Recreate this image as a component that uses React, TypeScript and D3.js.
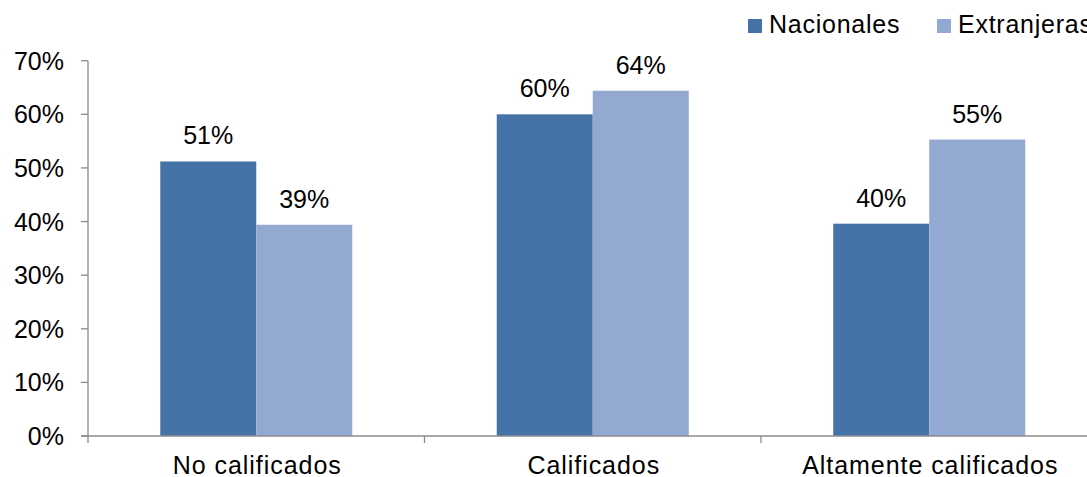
import React from "react";
import * as d3 from "d3";

// Proportion by qualification level, nationals vs. foreigners
const categories = ["No calificados", "Calificados", "Altamente calificados"];
const seriesNames = ["Nacionales", "Extranjeras"];
const nacionales = [0.512, 0.6, 0.396];
const extranjeras = [0.394, 0.644, 0.553];
const yTicks = [0, 0.1, 0.2, 0.3, 0.4, 0.5, 0.6, 0.7];
const colors = ["#4572A7", "#93A9D1"];

const W = 1087;
const H = 477;
const FONT = "'Liberation Sans', Arial, sans-serif";

export default function App() {
  const x0 = 88;
  const x1 = 1097.5;
  const yTop = 60.7;
  const yBot = 436;

  const x = d3.scaleBand<string>().domain(categories).range([x0, x1]).paddingInner(0).paddingOuter(0);
  const y = d3.scaleLinear().domain([0, 0.7]).range([yBot, yTop]);
  const barW = 96;
  const series = [nacionales, extranjeras];
  const fmt = d3.format(".0%");

  return (
    <svg
      width={W}
      height={H}
      style={{ position: "absolute", left: 0, top: 0, display: "block", background: "#fff" }}
      fontFamily={FONT}
    >
      {/* bars */}
      {categories.map((c, i) => {
        const cx = (x(c) as number) + x.bandwidth() / 2;
        return series.map((vals, s) => {
          const bx = cx - barW + s * barW;
          return (
            <g key={`${c}-${s}`}>
              <rect x={bx} y={y(vals[i])} width={barW} height={yBot - y(vals[i])} fill={colors[s]} />
              <text x={bx + barW / 2} y={y(vals[i]) - 17} textAnchor="middle" fontSize={25} fill="#000">
                {fmt(vals[i])}
              </text>
            </g>
          );
        });
      })}

      {/* y axis */}
      <line x1={x0} x2={x0} y1={yTop} y2={yBot} stroke="#8c8c8c" strokeWidth={1.3} />
      {yTicks.map((t) => (
        <g key={t}>
          <line x1={81} x2={x0} y1={y(t)} y2={y(t)} stroke="#8c8c8c" strokeWidth={1.3} />
          <text x={64} y={y(t) + 9} textAnchor="end" fontSize={25} fill="#000">
            {fmt(t)}
          </text>
        </g>
      ))}

      {/* x axis */}
      <line x1={81} x2={W} y1={yBot} y2={yBot} stroke="#8c8c8c" strokeWidth={1.3} />
      {categories.map((c) => (
        <line key={c} x1={x(c) as number} x2={x(c) as number} y1={yBot} y2={yBot + 7} stroke="#8c8c8c" strokeWidth={1.3} />
      ))}
      {categories.map((c) => (
        <text
          key={c}
          x={(x(c) as number) + x.bandwidth() / 2 + 1}
          y={473.5}
          textAnchor="middle"
          fontSize={25}
          letterSpacing={0.95}
          fill="#000"
        >
          {c}
        </text>
      ))}

      {/* legend */}
      {seriesNames.map((n, s) => {
        const lx = [748, 937][s];
        return (
          <g key={n}>
            <rect x={lx} y={19} width={14} height={14} fill={colors[s]} />
            <text x={lx + 21} y={33} fontSize={25} letterSpacing={0.75} fill="#000">
              {n}
            </text>
          </g>
        );
      })}
    </svg>
  );
}
